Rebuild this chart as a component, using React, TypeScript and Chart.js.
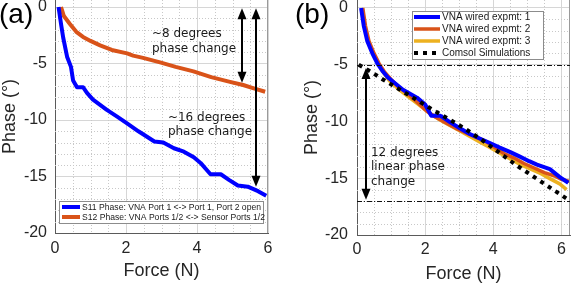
import React, { useEffect, useRef } from "react";
import { Chart, registerables } from "chart.js";
Chart.register(...registerables);

// ---------- Panel (a) data ----------
const s11Force = [0.1, 0.17, 0.23, 0.34, 0.45, 0.51, 0.62, 0.79, 0.9, 1.07, 1.46, 1.75, 2.03, 2.35, 2.8, 3.05, 3.35, 3.63, 3.91, 4.1, 4.38, 4.67, 4.9, 5.15, 5.43, 5.72, 5.95];
const s11Phase = [0, -1.5, -2.7, -4.4, -5.3, -6.5, -7.1, -7.1, -7.6, -8.2, -9.1, -9.7, -10.3, -11.0, -11.9, -12.0, -12.5, -12.8, -13.3, -13.8, -14.8, -14.8, -15.3, -15.8, -15.9, -16.3, -16.7];
const s12Force = [0.17, 0.25, 0.42, 0.6, 0.79, 1.0, 1.27, 1.6, 2.03, 2.2, 2.48, 2.96, 3.4, 3.9, 4.4, 4.9, 5.3, 5.6, 5.92];
const s12Phase = [0, -0.8, -1.5, -2.2, -2.65, -3.0, -3.4, -3.8, -4.1, -4.3, -4.5, -4.9, -5.3, -5.7, -6.2, -6.6, -6.9, -7.2, -7.5];

// ---------- Panel (b) data ----------
const exp1Force = [0.12, 0.2, 0.3, 0.45, 0.6, 0.76, 0.9, 1.06, 1.35, 1.76, 2.0, 2.18, 2.45, 2.75, 3.02, 3.31, 3.6, 3.9, 4.19, 4.5, 4.78, 5.05, 5.28, 5.66, 5.95, 6.2];
const exp1Phase = [0, -1.6, -2.9, -4.0, -4.9, -5.6, -6.1, -6.5, -7.2, -7.9, -8.5, -9.5, -9.5, -10.1, -10.6, -11.1, -11.5, -11.9, -12.3, -12.7, -13.1, -13.5, -13.8, -14.2, -14.9, -15.4];
const exp2Force = [0.17, 0.25, 0.35, 0.5, 0.65, 0.8, 1.0, 1.2, 1.5, 1.8, 2.05, 2.3, 2.6, 2.9, 3.2, 3.5, 3.75, 4.0, 4.3, 4.6, 4.9, 5.2, 5.5, 5.8, 6.0, 6.25];
const exp2Phase = [0, -1.6, -2.9, -4.0, -4.9, -5.6, -6.3, -6.9, -7.6, -8.4, -9.1, -9.6, -10.1, -10.6, -11.0, -11.4, -11.7, -12.2, -12.8, -13.2, -13.7, -14.1, -14.5, -14.8, -15.1, -15.3];
const exp3Force = [0.15, 0.22, 0.32, 0.47, 0.62, 0.78, 0.95, 1.2, 1.5, 1.8, 2.1, 2.4, 2.7, 3.0, 3.3, 3.6, 3.9, 4.2, 4.5, 4.8, 5.1, 5.4, 5.7, 5.95, 6.15];
const exp3Phase = [0, -1.6, -2.9, -4.0, -4.9, -5.7, -6.4, -7.1, -7.8, -8.5, -9.2, -9.8, -10.3, -10.8, -11.3, -11.8, -12.3, -12.8, -13.3, -13.8, -14.2, -14.6, -15.1, -15.5, -16.0];
const comsolForce = [0.05, 0.4, 0.76, 1.26, 1.75, 2.24, 2.7, 3.15, 3.7, 4.2, 4.65, 5.1, 5.6, 6.15];
const comsolPhase = [-5.0, -5.6, -6.3, -7.2, -8.1, -9.0, -9.8, -10.6, -11.7, -12.8, -13.8, -14.7, -15.7, -16.8];

// ---------- ticks ----------
const forceTicks = [0, 2, 4, 6];
const phaseTicks = [0, -5, -10, -15, -20];

// ---------- annotations (data coordinates) ----------
const arrowsA = [
  { x: 5.27, from: -0.1, to: -6.7 },
  { x: 5.66, from: -0.1, to: -15.9 },
];
const textsA = [
  { x: 2.73, y: -2.65, text: "~8 degrees" },
  { x: 2.73, y: -3.98, text: "phase change" },
  { x: 3.18, y: -10.09, text: "~16 degrees" },
  { x: 3.18, y: -11.33, text: "phase change" },
];
const arrowsB = [{ x: 0.26, from: -5.3, to: -16.9 }];
const textsB = [
  { x: 0.41, y: -13.0, text: "12 degrees" },
  { x: 0.41, y: -14.3, text: "linear phase" },
  { x: 0.41, y: -15.6, text: "change" },
];
const refLinesB = [-5, -17];

const BLUE = "#0000ff";
const ORANGE = "#d95319";
const YELLOW = "#edb120";
const TXT = "#262626";

const pts = (xs: number[], ys: number[]) => xs.map((x, i) => ({ x, y: ys[i] }));

const minorGrid = {
  id: "minorGrid",
  beforeDatasetsDraw(chart: any) {
    const { ctx, chartArea: ca, scales } = chart;
    const x = scales.x, y = scales.y;
    ctx.save();
    ctx.strokeStyle = "#c8c8c8";
    ctx.lineWidth = 1;
    ctx.setLineDash([1, 2]);
    for (let i = 1; i * 0.5 < x.max; i++) {
      if (i % 4 === 0) continue;
      const px = Math.round(x.getPixelForValue(i * 0.5)) + 0.5;
      ctx.beginPath(); ctx.moveTo(px, ca.top); ctx.lineTo(px, ca.bottom); ctx.stroke();
    }
    for (let v = -19; v < y.max; v++) {
      if (v % 5 === 0) continue;
      const py = Math.round(y.getPixelForValue(v)) + 0.5;
      ctx.beginPath(); ctx.moveTo(ca.left, py); ctx.lineTo(ca.right, py); ctx.stroke();
    }
    ctx.restore();
  },
};

function drawArrow(ctx: CanvasRenderingContext2D, px: number, y1: number, y2: number) {
  const hl = 11, hw = 4.5;
  ctx.strokeStyle = "#000";
  ctx.fillStyle = "#000";
  ctx.lineWidth = 2;
  ctx.beginPath(); ctx.moveTo(px, y1 + hl - 1); ctx.lineTo(px, y2 - hl + 1); ctx.stroke();
  ctx.beginPath(); ctx.moveTo(px, y1); ctx.lineTo(px - hw, y1 + hl); ctx.lineTo(px + hw, y1 + hl); ctx.closePath(); ctx.fill();
  ctx.beginPath(); ctx.moveTo(px, y2); ctx.lineTo(px - hw, y2 - hl); ctx.lineTo(px + hw, y2 - hl); ctx.closePath(); ctx.fill();
}

const annotate = {
  id: "annotate",
  afterDatasetsDraw(chart: any, _a: any, o: any) {
    const { ctx, chartArea: ca, scales } = chart;
    const x = scales.x, y = scales.y;
    ctx.save();
    // right frame
    ctx.strokeStyle = "#9a9a9a";
    ctx.lineWidth = 1;
    const rx = Math.round(ca.right) - 0.5;
    ctx.beginPath(); ctx.moveTo(rx, ca.top); ctx.lineTo(rx, ca.bottom); ctx.stroke();
    // reference dash-dot lines
    (o.refLines || []).forEach((v: number) => {
      const py = Math.round(y.getPixelForValue(v)) + 0.5;
      ctx.strokeStyle = "#111";
      ctx.lineWidth = 1;
      ctx.setLineDash([5, 2, 1, 2]);
      ctx.beginPath(); ctx.moveTo(ca.left, py); ctx.lineTo(ca.right, py); ctx.stroke();
    });
    ctx.setLineDash([]);
    (o.arrows || []).forEach((a: any) => {
      drawArrow(ctx, Math.round(x.getPixelForValue(a.x)), y.getPixelForValue(a.from), y.getPixelForValue(a.to));
    });
    ctx.font = '12px "DejaVu Sans"';
    ctx.fillStyle = "#1a1a1a";
    ctx.textAlign = "left";
    ctx.textBaseline = "alphabetic";
    (o.texts || []).forEach((t: any) => {
      ctx.fillText(t.text, x.getPixelForValue(t.x), y.getPixelForValue(t.y));
    });
    ctx.font = '28px "Liberation Sans"';
    ctx.fillStyle = "#000";
    ctx.fillText(o.panel, o.panelX, o.panelY);
    ctx.restore();
  },
};

const boxLegend = {
  id: "boxLegend",
  afterDraw(chart: any, _a: any, o: any) {
    const { ctx } = chart;
    ctx.save();
    ctx.fillStyle = "#fff";
    ctx.fillRect(o.x, o.y, o.w, o.h);
    ctx.strokeStyle = "#8c8c8c";
    ctx.lineWidth = 1;
    ctx.strokeRect(o.x + 0.5, o.y + 0.5, o.w, o.h);
    ctx.font = `${o.fontSize}px "Liberation Sans"`;
    ctx.textAlign = "left";
    ctx.textBaseline = "middle";
    chart.data.datasets.forEach((ds: any, i: number) => {
      const cy = o.y + o.first + i * o.rowH;
      ctx.strokeStyle = ds.borderColor;
      ctx.lineWidth = ds.borderWidth;
      ctx.setLineDash(ds.borderDash || []);
      ctx.lineCap = "butt";
      ctx.beginPath(); ctx.moveTo(o.x + o.line0, cy); ctx.lineTo(o.x + o.line1, cy); ctx.stroke();
      ctx.setLineDash([]);
      ctx.fillStyle = "#1a1a1a";
      ctx.fillText(ds.label, o.x + o.textX, cy + 0.5);
    });
    ctx.restore();
  },
};

function makeScales(p: any) {
  return {
    x: {
      type: "linear",
      min: 0,
      max: p.xMax,
      afterBuildTicks: (s: any) => { s.ticks = forceTicks.map((v) => ({ value: v })); },
      afterFit: (s: any) => { s.height = p.xHeight; s.paddingLeft = 0; s.paddingRight = 0; },
      grid: { color: "#d6d6d6", drawTicks: false },
      border: { color: "#5a5a5a", width: 1 },
      ticks: { color: TXT, font: { size: 16 }, padding: p.xTickPad, maxRotation: 0, autoSkip: false, callback: (v: any) => String(v) },
      title: { display: true, text: "Force (N)", color: TXT, font: { size: 18, lineHeight: 1 }, padding: { top: 0, bottom: p.xTitlePad } },
    },
    y: {
      type: "linear",
      min: -20,
      max: p.yMax,
      afterBuildTicks: (s: any) => { s.ticks = phaseTicks.map((v) => ({ value: v })); },
      afterFit: (s: any) => { s.width = p.yWidth; s.paddingTop = 0; s.paddingBottom = 0; },
      grid: { color: "#d6d6d6", drawTicks: false },
      border: { color: "#5a5a5a", width: 1 },
      ticks: { color: TXT, font: { size: 16 }, padding: p.yTickPad, autoSkip: false, callback: (v: any) => String(v) },
      title: { display: true, text: "Phase (°)", color: TXT, font: { size: 18, lineHeight: 1 }, padding: { top: p.yTitlePad, bottom: 0 } },
    },
  };
}

function line(label: string, xs: number[], ys: number[], color: string, width: number, order: number, dash?: number[]) {
  return {
    label,
    data: pts(xs, ys),
    borderColor: color,
    backgroundColor: color,
    borderWidth: width,
    borderDash: dash || [],
    borderCapStyle: "butt",
    borderJoinStyle: "round",
    pointRadius: 0,
    tension: 0,
    fill: false,
    order,
    clip: 0,
  };
}

function ChartPanel({ config, left }: { config: any; left: number }) {
  const ref = useRef<HTMLCanvasElement>(null);
  useEffect(() => {
    if (!ref.current) return;
    const c = new Chart(ref.current, config);
    return () => c.destroy();
  }, []);
  return (
    <canvas ref={ref} width={291} height={283} style={{ position: "absolute", left, top: 0, width: 291, height: 283 }} />
  );
}

Chart.defaults.font.family = '"Liberation Sans", Arial, sans-serif';

const configA = {
  type: "line",
  data: {
    datasets: [
      line("S11 Phase: VNA Port 1 <-> Port 1, Port 2 open", s11Force, s11Phase, BLUE, 4, 1),
      line("S12 Phase: VNA Ports 1/2 <-> Sensor Ports 1/2", s12Force, s12Phase, ORANGE, 4, 2),
    ],
  },
  options: {
    responsive: false,
    animation: false,
    devicePixelRatio: 1,
    layout: { padding: { left: 0, top: 0, right: 23, bottom: 0 } },
    scales: makeScales({ xMax: 6, yMax: 0.62, xHeight: 50, yWidth: 55, xTickPad: 6, yTickPad: 8, xTitlePad: 3, yTitlePad: 1 }),
    plugins: {
      legend: { display: false },
      tooltip: { enabled: false },
      annotate: { arrows: arrowsA, texts: textsA, refLines: [], panel: "(a)", panelX: -1, panelY: 23 },
      boxLegend: { x: 59, y: 201, w: 204, h: 22, first: 6, rowH: 10, line0: 3, line1: 21, textX: 23, fontSize: 8.6 },
    },
  },
  plugins: [minorGrid, annotate, boxLegend],
};

const configB = {
  type: "line",
  data: {
    datasets: [
      line("VNA wired expmt: 1", exp1Force, exp1Phase, BLUE, 4, 1),
      line("VNA wired expmt: 2", exp2Force, exp2Phase, ORANGE, 3.5, 2),
      line("VNA wired expmt: 3", exp3Force, exp3Phase, YELLOW, 3.5, 3),
      line("Comsol Simulations", comsolForce, comsolPhase, "#000", 4, 0, [4, 5]),
    ],
  },
  options: {
    responsive: false,
    animation: false,
    devicePixelRatio: 1,
    layout: { padding: { left: 0, top: 0, right: 12, bottom: 0 } },
    scales: makeScales({ xMax: 6.25, yMax: 0.7, xHeight: 48, yWidth: 66, xTickPad: 5, yTickPad: 9, xTitlePad: 0, yTitlePad: 12 }),
    plugins: {
      legend: { display: false },
      tooltip: { enabled: false },
      annotate: { arrows: arrowsB, texts: textsB, refLines: refLinesB, panel: "(b)", panelX: 4, panelY: 23 },
      boxLegend: { x: 121, y: 11, w: 131, h: 48, first: 6, rowH: 12, line0: 2, line1: 28, textX: 30, fontSize: 10 },
    },
  },
  plugins: [minorGrid, annotate, boxLegend],
};

export default function App() {
  return (
    <div style={{ position: "fixed", left: 0, top: 0, width: 582, height: 283, background: "#fff" }}>
      <ChartPanel config={configA} left={0} />
      <ChartPanel config={configB} left={291} />
    </div>
  );
}
